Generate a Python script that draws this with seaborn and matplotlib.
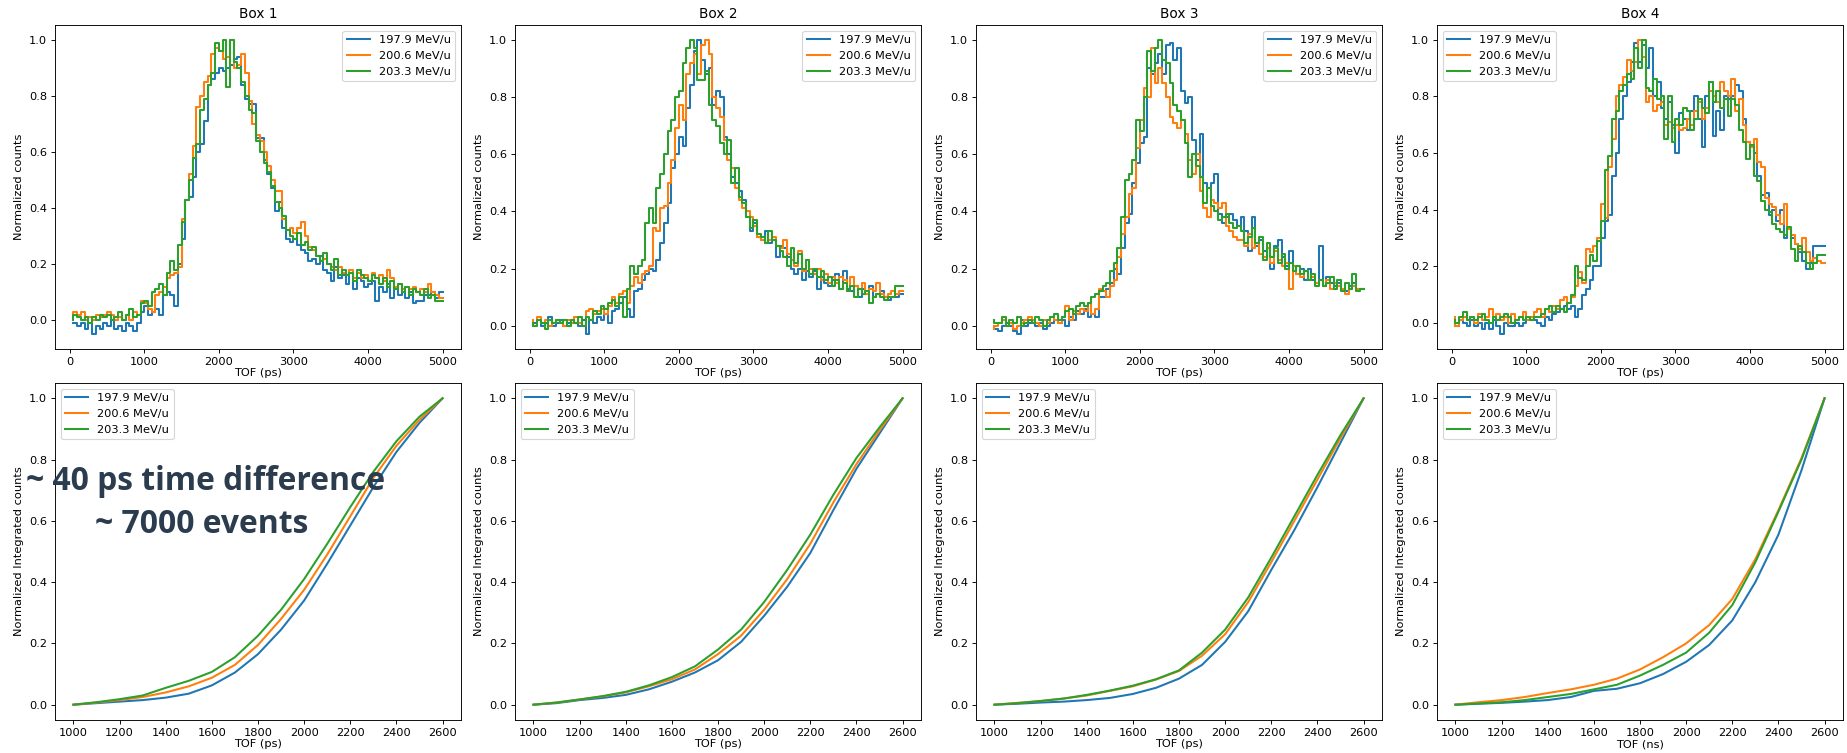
import numpy as np
import pandas as pd
import matplotlib
matplotlib.use("Agg")
import matplotlib.pyplot as plt
import seaborn as sns

# =============================================
# 1. DATA
# =============================================
ENERGIES = ["197.9 MeV/u", "200.6 MeV/u", "203.3 MeV/u"]
BOXES = ["Box 1", "Box 2", "Box 3", "Box 4"]

# histogram bin edges (upper edge of each 50 ps bin)
TOF_BINS = np.arange(50, 5001, 50)

# --- Box 1 histograms
BOX1_197 = [-0.01, -0.01, -0.02, -0.01, -0.03, -0.01, -0.05, -0.02, -0.03, -0.01, -0.02, 0.0, -0.03, -0.02, -0.04, -0.01, -0.02, -0.04, -0.01,
            0.03, 0.05, 0.02, 0.03, 0.04, 0.02, 0.09, 0.1, 0.09, 0.05, 0.2,
            0.29, 0.43, 0.44, 0.51, 0.6, 0.63, 0.71, 0.84, 0.86, 0.88, 0.9, 0.89, 0.9, 0.91, 0.93, 0.94, 0.84, 0.79, 0.77, 0.77,
            0.65, 0.65, 0.57, 0.52, 0.47, 0.39, 0.42, 0.33, 0.29, 0.28,
            0.29, 0.27, 0.25, 0.24, 0.21, 0.22, 0.2, 0.23, 0.18, 0.17,
            0.14, 0.19, 0.15, 0.16, 0.13, 0.17, 0.11, 0.15, 0.14, 0.12,
            0.13, 0.14, 0.07, 0.12, 0.1, 0.13, 0.08, 0.12, 0.09, 0.11,
            0.08, 0.1, 0.06, 0.07, 0.07, 0.09, 0.09, 0.1, 0.08, 0.1]
BOX1_200 = [0.01, 0.03, 0.02, 0.03, 0.0, 0.01, 0.0, 0.02, 0.01, 0.02, 0.03, 0.02, 0.0, 0.01, 0.0, 0.02, 0.0, 0.03, 0.02,
            0.07, 0.06, 0.04, 0.03, 0.09, 0.1, 0.12, 0.15, 0.16, 0.17, 0.19,
            0.36, 0.43, 0.52, 0.62, 0.76, 0.8, 0.85, 0.87, 0.95, 0.97, 0.96, 0.93, 0.94, 1.0, 0.9, 0.91, 0.95, 0.88, 0.78, 0.7,
            0.66, 0.64, 0.6, 0.55, 0.5, 0.46, 0.46, 0.36, 0.32, 0.33,
            0.31, 0.33, 0.35, 0.3, 0.26, 0.25, 0.23, 0.21, 0.22, 0.2,
            0.19, 0.18, 0.19, 0.17, 0.16, 0.18, 0.15, 0.17, 0.15, 0.16,
            0.14, 0.17, 0.15, 0.16, 0.14, 0.18, 0.15, 0.12, 0.13, 0.11,
            0.12, 0.11, 0.12, 0.1, 0.11, 0.1, 0.13, 0.1, 0.09, 0.08]
BOX1_203 = [0.0, 0.02, 0.01, 0.0, 0.01, -0.01, 0.01, 0.0, 0.02, 0.01, 0.02, 0.0, 0.01, 0.03, 0.0, 0.02, 0.04, 0.01, 0.02,
            0.06, 0.07, 0.05, 0.1, 0.11, 0.13, 0.09, 0.17, 0.21, 0.18, 0.27,
            0.35, 0.43, 0.5, 0.58, 0.63, 0.75, 0.79, 0.84, 0.88, 0.99, 0.96, 1.0, 0.83, 1.0, 0.92, 0.9, 0.85, 0.8, 0.75, 0.74,
            0.64, 0.6, 0.56, 0.53, 0.48, 0.42, 0.4, 0.37, 0.32, 0.3,
            0.29, 0.31, 0.27, 0.28, 0.25, 0.26, 0.23, 0.21, 0.24, 0.2,
            0.18, 0.22, 0.16, 0.18, 0.16, 0.17, 0.14, 0.18, 0.16, 0.15,
            0.14, 0.16, 0.15, 0.13, 0.15, 0.12, 0.14, 0.11, 0.13, 0.1,
            0.12, 0.09, 0.11, 0.1, 0.09, 0.11, 0.08, 0.09, 0.07, 0.07]

# --- Box 2 histograms
BOX2_197 = [0.0, 0.01, 0.02, 0.0, 0.01, 0.03, 0.0, 0.01, 0.02, 0.0, 0.01, 0.02, 0.01, 0.0, 0.02, -0.03, 0.02, 0.01, 0.03,
            0.02, 0.04, 0.01, 0.05, 0.06, 0.08, 0.1, 0.06, 0.03, 0.12, 0.13,
            0.16, 0.18, 0.2, 0.19, 0.23, 0.29, 0.36, 0.43, 0.55, 0.6, 0.66, 0.63, 0.76, 0.84, 0.96, 1.0, 0.93, 0.88, 0.9, 0.77,
            0.82, 0.8, 0.66, 0.6, 0.52, 0.5, 0.47, 0.44, 0.38, 0.33,
            0.36, 0.31, 0.3, 0.33, 0.29, 0.3, 0.24, 0.28, 0.27, 0.24,
            0.2, 0.18, 0.2, 0.16, 0.19, 0.17, 0.19, 0.13, 0.17, 0.15,
            0.14, 0.16, 0.18, 0.13, 0.19, 0.13, 0.12, 0.14, 0.1, 0.13,
            0.12, 0.14, 0.1, 0.11, 0.12, 0.1, 0.09, 0.1, 0.1, 0.11]
BOX2_200 = [0.02, 0.0, 0.03, 0.01, 0.02, 0.0, 0.01, 0.02, 0.01, 0.0, 0.02, 0.01, 0.03, 0.01, 0.0, 0.05, 0.06, 0.04, 0.05,
            0.06, 0.04, 0.07, 0.1, 0.08, 0.11, 0.12, 0.08, 0.14, 0.17, 0.15,
            0.18, 0.19, 0.21, 0.34, 0.33, 0.41, 0.42, 0.5, 0.58, 0.69, 0.77, 0.72, 0.88, 0.92, 0.95, 0.88, 0.98, 1.0, 0.95, 0.8,
            0.76, 0.73, 0.65, 0.58, 0.55, 0.48, 0.44, 0.41, 0.4, 0.38,
            0.35, 0.31, 0.3, 0.29, 0.3, 0.31, 0.28, 0.27, 0.3, 0.25,
            0.23, 0.21, 0.26, 0.19, 0.23, 0.2, 0.18, 0.2, 0.16, 0.18,
            0.15, 0.17, 0.15, 0.17, 0.16, 0.12, 0.17, 0.14, 0.13, 0.15,
            0.11, 0.13, 0.12, 0.15, 0.11, 0.1, 0.11, 0.12, 0.11, 0.12]
BOX2_203 = [0.01, 0.0, 0.02, 0.01, -0.01, 0.02, 0.01, 0.02, 0.01, 0.02, 0.0, 0.02, 0.01, 0.03, 0.0, 0.03, 0.02, 0.05, 0.04,
            0.07, 0.06, 0.08, 0.09, 0.07, 0.1, 0.03, 0.13, 0.21, 0.18, 0.21,
            0.23, 0.36, 0.41, 0.36, 0.48, 0.53, 0.6, 0.68, 0.72, 0.8, 0.82, 0.92, 0.97, 1.0, 0.97, 0.86, 0.86, 0.89, 0.77, 0.72,
            0.7, 0.64, 0.6, 0.65, 0.5, 0.55, 0.45, 0.43, 0.38, 0.34,
            0.37, 0.32, 0.31, 0.29, 0.33, 0.3, 0.28, 0.26, 0.24, 0.21,
            0.27, 0.22, 0.25, 0.2, 0.23, 0.18, 0.2, 0.17, 0.19, 0.16,
            0.17, 0.14, 0.16, 0.13, 0.15, 0.12, 0.14, 0.1, 0.13, 0.11,
            0.12, 0.08, 0.1, 0.11, 0.1, 0.09, 0.1, 0.1, 0.14, 0.14]

# --- Box 3 histograms
BOX3_197 = [0.0, -0.01, -0.02, 0.0, 0.01, 0.0, -0.02, -0.03, 0.02, 0.0, 0.01, 0.02, 0.0, 0.01, -0.01, 0.0, 0.01, 0.02, 0.01,
            0.02, 0.0, 0.03, 0.02, 0.05, 0.04, 0.06, 0.03, 0.04, 0.03, 0.1,
            0.1, 0.13, 0.15, 0.2, 0.18, 0.27, 0.36, 0.39, 0.5, 0.57, 0.64, 0.66, 0.9, 0.88, 0.92, 0.95, 0.88, 0.98, 0.99, 0.93,
            0.97, 0.82, 0.78, 0.8, 0.65, 0.58, 0.67, 0.5, 0.48, 0.5,
            0.53, 0.39, 0.36, 0.38, 0.39, 0.37, 0.35, 0.38, 0.33, 0.26,
            0.38, 0.28, 0.3, 0.26, 0.27, 0.2, 0.28, 0.3, 0.24, 0.21,
            0.26, 0.21, 0.18, 0.2, 0.16, 0.2, 0.16, 0.15, 0.28, 0.14,
            0.17, 0.15, 0.14, 0.15, 0.13, 0.12, 0.14, 0.15, 0.13, 0.13]
BOX3_200 = [-0.01, 0.0, 0.01, 0.02, 0.0, 0.01, -0.01, 0.0, 0.01, 0.02, 0.03, 0.02, 0.01, 0.0, 0.02, 0.01, 0.03, 0.02, 0.01,
            0.03, 0.07, 0.02, 0.05, 0.04, 0.06, 0.05, 0.08, 0.04, 0.06, 0.13,
            0.12, 0.1, 0.14, 0.16, 0.24, 0.32, 0.38, 0.46, 0.48, 0.62, 0.72, 0.83, 0.8, 0.97, 0.85, 0.9, 0.85, 0.8, 0.73, 0.71,
            0.69, 0.72, 0.67, 0.58, 0.53, 0.6, 0.47, 0.41, 0.38, 0.44,
            0.43, 0.41, 0.43, 0.35, 0.33, 0.31, 0.3, 0.3, 0.28, 0.32,
            0.27, 0.29, 0.25, 0.24, 0.27, 0.22, 0.26, 0.23, 0.21, 0.22,
            0.13, 0.21, 0.18, 0.17, 0.19, 0.16, 0.17, 0.15, 0.16, 0.14,
            0.16, 0.13, 0.15, 0.14, 0.13, 0.11, 0.13, 0.14, 0.13, 0.13]
BOX3_203 = [0.02, 0.01, 0.01, 0.03, 0.0, 0.02, 0.01, 0.03, 0.0, 0.01, 0.02, 0.01, 0.03, 0.02, 0.0, 0.02, 0.03, 0.04, 0.02,
            0.03, 0.05, 0.06, 0.04, 0.07, 0.08, 0.07, 0.08, 0.1, 0.11, 0.12,
            0.14, 0.15, 0.19, 0.22, 0.27, 0.38, 0.51, 0.53, 0.58, 0.72, 0.68, 0.8, 0.96, 0.89, 0.97, 1.0, 0.93, 0.92, 0.85, 0.77,
            0.75, 0.72, 0.64, 0.52, 0.6, 0.56, 0.52, 0.43, 0.48, 0.42,
            0.4, 0.37, 0.38, 0.39, 0.36, 0.34, 0.35, 0.33, 0.29, 0.31,
            0.34, 0.29, 0.31, 0.23, 0.29, 0.24, 0.27, 0.22, 0.25, 0.2,
            0.22, 0.19, 0.21, 0.18, 0.19, 0.16, 0.18, 0.14, 0.16, 0.14,
            0.15, 0.17, 0.13, 0.16, 0.12, 0.15, 0.13, 0.18, 0.12, 0.13]

# --- Box 4 histograms
BOX4_197 = [0.01, -0.01, 0.01, 0.0, -0.01, 0.01, -0.01, 0.0, -0.02, 0.0, -0.02, 0.01, -0.01, -0.04, 0.0, -0.01, -0.01, 0.0, -0.01,
            0.0, 0.01, 0.02, 0.01, 0.0, -0.01, 0.02, 0.01, 0.03, 0.04, 0.05,
            0.06, 0.05, 0.06, 0.02, 0.05, 0.1, 0.12, 0.15, 0.2, 0.2, 0.3, 0.36, 0.38, 0.52, 0.6, 0.72, 0.8, 0.85, 0.92, 0.99,
            0.92, 0.98, 0.9, 0.97, 0.8, 0.85, 0.76, 0.72, 0.78, 0.7,
            0.6, 0.74, 0.72, 0.68, 0.75, 0.8, 0.72, 0.62, 0.8, 0.85,
            0.66, 0.75, 0.68, 0.8, 0.79, 0.8, 0.84, 0.82, 0.72, 0.64,
            0.62, 0.6, 0.52, 0.45, 0.46, 0.38, 0.4, 0.36, 0.4, 0.3,
            0.33, 0.3, 0.28, 0.25, 0.22, 0.19, 0.21, 0.27, 0.27, 0.27]
BOX4_200 = [0.02, -0.01, 0.01, 0.02, 0.01, 0.02, 0.0, 0.03, 0.01, 0.02, 0.05, 0.02, 0.03, 0.01, 0.02, 0.0, 0.03, 0.01, 0.02,
            0.04, 0.01, 0.02, 0.04, 0.05, 0.02, 0.05, 0.04, 0.06, 0.05, 0.08,
            0.09, 0.07, 0.09, 0.13, 0.18, 0.14, 0.26, 0.25, 0.27, 0.3, 0.42, 0.37, 0.55, 0.65, 0.8, 0.84, 0.87, 0.93, 0.89, 0.92,
            1.0, 0.94, 0.78, 0.8, 0.75, 0.77, 0.78, 0.7, 0.71, 0.69,
            0.7, 0.68, 0.69, 0.72, 0.7, 0.75, 0.78, 0.72, 0.76, 0.82,
            0.8, 0.78, 0.85, 0.82, 0.8, 0.86, 0.75, 0.79, 0.7, 0.64,
            0.62, 0.65, 0.57, 0.55, 0.44, 0.42, 0.41, 0.38, 0.35, 0.42,
            0.33, 0.31, 0.28, 0.26, 0.3, 0.25, 0.22, 0.23, 0.22, 0.21]
BOX4_203 = [0.01, 0.0, 0.02, 0.04, 0.01, 0.02, 0.01, 0.02, 0.03, 0.01, 0.0, 0.02, 0.01, 0.02, 0.03, 0.02, 0.0, 0.01, 0.02,
            0.01, 0.02, 0.01, 0.02, 0.02, 0.03, 0.05, 0.06, 0.04, 0.06, 0.05,
            0.04, 0.07, 0.1, 0.2, 0.16, 0.15, 0.2, 0.24, 0.22, 0.29, 0.36, 0.54, 0.59, 0.72, 0.75, 0.82, 0.84, 0.88, 0.86, 0.97,
            0.9, 1.0, 0.83, 0.82, 0.86, 0.79, 0.8, 0.65, 0.8, 0.64,
            0.72, 0.7, 0.76, 0.75, 0.68, 0.72, 0.79, 0.76, 0.74, 0.85,
            0.78, 0.82, 0.76, 0.79, 0.73, 0.79, 0.77, 0.68, 0.64, 0.58,
            0.63, 0.52, 0.5, 0.43, 0.4, 0.39, 0.35, 0.33, 0.32, 0.31,
            0.34, 0.26, 0.22, 0.27, 0.25, 0.21, 0.19, 0.21, 0.24, 0.24]

# integrated (cumulative) curves between 1000 and 2600 ps
CUM_TOF = [1000, 1100, 1200, 1300, 1400, 1500, 1600, 1700, 1800, 1900, 2000, 2100, 2200, 2300, 2400, 2500, 2600]

CUM1_197 = [0.0, 0.005, 0.01, 0.015, 0.023, 0.036, 0.063, 0.105, 0.165, 0.245, 0.34, 0.46, 0.585, 0.71, 0.825, 0.92, 1.0]
CUM1_200 = [0.0, 0.007, 0.015, 0.025, 0.04, 0.06, 0.088, 0.13, 0.195, 0.28, 0.375, 0.49, 0.615, 0.74, 0.845, 0.93, 1.0]
CUM1_203 = [0.0, 0.008, 0.018, 0.03, 0.055, 0.078, 0.107, 0.155, 0.225, 0.31, 0.41, 0.525, 0.645, 0.76, 0.86, 0.94, 1.0]

CUM2_197 = [0.0, 0.005, 0.015, 0.022, 0.032, 0.05, 0.075, 0.105, 0.145, 0.205, 0.29, 0.385, 0.495, 0.635, 0.77, 0.885, 1.0]
CUM2_200 = [0.0, 0.007, 0.017, 0.027, 0.04, 0.06, 0.083, 0.115, 0.165, 0.225, 0.31, 0.41, 0.525, 0.66, 0.785, 0.895, 1.0]
CUM2_203 = [0.0, 0.007, 0.017, 0.028, 0.042, 0.063, 0.09, 0.125, 0.18, 0.245, 0.335, 0.44, 0.555, 0.685, 0.805, 0.905, 1.0]

CUM3_197 = [0.0, 0.003, 0.007, 0.01, 0.015, 0.022, 0.035, 0.055, 0.085, 0.13, 0.205, 0.305, 0.44, 0.57, 0.71, 0.855, 1.0]
CUM3_200 = [0.0, 0.006, 0.012, 0.02, 0.03, 0.045, 0.06, 0.082, 0.11, 0.16, 0.23, 0.335, 0.465, 0.6, 0.735, 0.87, 1.0]
CUM3_203 = [0.0, 0.005, 0.012, 0.02, 0.032, 0.046, 0.062, 0.083, 0.112, 0.17, 0.245, 0.35, 0.48, 0.615, 0.75, 0.88, 1.0]

CUM4_197 = [0.0, 0.003, 0.006, 0.01, 0.015, 0.025, 0.045, 0.052, 0.07, 0.1, 0.14, 0.195, 0.275, 0.4, 0.555, 0.765, 1.0]
CUM4_200 = [0.0, 0.008, 0.015, 0.025, 0.038, 0.05, 0.065, 0.085, 0.115, 0.155, 0.2, 0.26, 0.345, 0.475, 0.635, 0.805, 1.0]
CUM4_203 = [0.0, 0.004, 0.008, 0.015, 0.025, 0.035, 0.05, 0.065, 0.095, 0.13, 0.17, 0.235, 0.325, 0.465, 0.63, 0.8, 1.0]

HISTS = [[BOX1_197, BOX1_200, BOX1_203],
         [BOX2_197, BOX2_200, BOX2_203],
         [BOX3_197, BOX3_200, BOX3_203],
         [BOX4_197, BOX4_200, BOX4_203]]
CUMS = [[CUM1_197, CUM1_200, CUM1_203],
        [CUM2_197, CUM2_200, CUM2_203],
        [CUM3_197, CUM3_200, CUM3_203],
        [CUM4_197, CUM4_200, CUM4_203]]
TOP_LEGEND_LOC = ["upper right", "upper right", "upper right", "upper left"]
BOTTOM_XLABELS = ["TOF (ps)", "TOF (ps)", "TOF (ps)", "TOF (ns)"]

NOTE_LINE1 = "~ 40 ps time difference"
NOTE_LINE2 = "~ 7000 events"

# =============================================
# 2. FIGURE
# =============================================
DPI = 82
W, H = 1847, 753
colors = sns.color_palette("tab10", 3)

fig = plt.figure(figsize=(W / DPI, H / DPI), dpi=DPI)

lefts = [55, 515, 976, 1437]
axw = 406
top_row = (25, 349)      # pixel top / bottom
bottom_row = (383, 720)

def px_rect(left, top, bottom):
    return [left / W, 1 - bottom / H, axw / W, (bottom - top) / H]

for i, name in enumerate(BOXES):
    # histograms
    ax = fig.add_axes(px_rect(lefts[i], *top_row))
    for j, label in enumerate(ENERGIES):
        df = pd.DataFrame({"tof": TOF_BINS, "counts": HISTS[i][j]})
        sns.lineplot(data=df, x="tof", y="counts", ax=ax, color=colors[j],
                     label=label, drawstyle="steps-pre", linewidth=1.8)
    ax.set_title(name)
    ax.set_xlabel("TOF (ps)", labelpad=1)
    ax.set_ylabel("Normalized counts")
    ax.legend(loc=TOP_LEGEND_LOC[i])

    # integrated counts
    ax2 = fig.add_axes(px_rect(lefts[i], *bottom_row))
    for j, label in enumerate(ENERGIES):
        df = pd.DataFrame({"tof": CUM_TOF, "cum": CUMS[i][j]})
        sns.lineplot(data=df, x="tof", y="cum", ax=ax2, color=colors[j],
                     label=label, linewidth=1.8)
    ax2.set_xlabel(BOTTOM_XLABELS[i], labelpad=1)
    ax2.set_ylabel("Normalized Integrated counts")
    ax2.legend(loc="upper left")

# overlay note
note_kw = dict(family=["Open Sans", "DejaVu Sans"], fontweight="bold",
               fontsize=28, color="#2b3c4f", ha="center", va="baseline")
fig.text(206 / W, 1 - 490 / H, NOTE_LINE1, **note_kw)
fig.text(202 / W, 1 - 533 / H, NOTE_LINE2, **note_kw)

fig.savefig("out.png", dpi=DPI)
